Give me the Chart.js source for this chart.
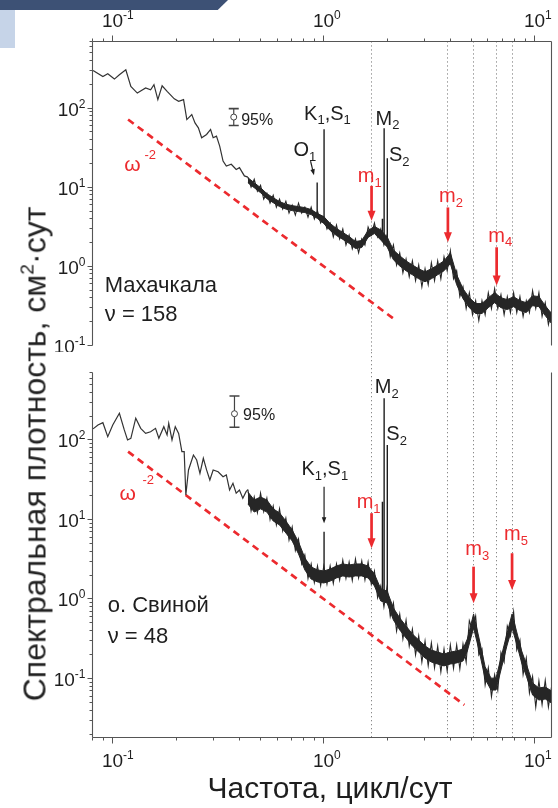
<!DOCTYPE html>
<html>
<head>
<meta charset="utf-8">
<script src="https://cdn.jsdelivr.net/npm/chart.js@4.4.1/dist/chart.umd.min.js"></script>
<style>
  html, body { margin: 0; padding: 0; background: #fff; }
  #wrap { position: relative; width: 558px; height: 808px; overflow: hidden; background: #fff; }
  #c1 { position: absolute; left: 0; top: 0; }
  #c2 { position: absolute; left: 0; top: 352px; }
  .band1 { position: absolute; left: 0; top: 0; width: 228px; height: 10px; background: #3d5175;
           clip-path: polygon(0 0, 100% 0, 95.5% 100%, 0 100%); z-index: 3; }
  .band2 { position: absolute; left: 0; top: 10px; width: 15px; height: 38px; background: #c6d4e8; z-index: 3; }
  #yt { position: absolute; left: 35px; top: 454px; transform: translate(-50%, -50%) rotate(-90deg);
        font: 32px "Liberation Sans", Arial, sans-serif; color: #222; white-space: nowrap; z-index: 2; }
  #yt sup { font-size: 60%; vertical-align: 0.6em; line-height: 0; }
</style>
</head>
<body>
<div id="wrap">
  <canvas id="c1" width="558" height="352"></canvas>
  <canvas id="c2" width="558" height="456"></canvas>
  <div class="band1"></div>
  <div class="band2"></div>
  <div id="yt">Спектральная плотность, см<sup>2</sup>·сут</div>
</div>
<script>
// ---------- frequency axis (cycles per day) ----------
const X_MIN = 0.08, X_MAX = 12;
const markerFreqs = [1.684, 3.876, 5.13, 6.60, 7.81];   // m1, m2, m3, m4, m5

// sampling frequencies of the high-frequency (noisy) part of both spectra
const noiseF = [0.4365, 0.4519, 0.4677, 0.4842, 0.5012, 0.5188, 0.5370, 0.5559, 0.5754, 0.5957,
  0.6166, 0.6383, 0.6607, 0.6839, 0.7079, 0.7328, 0.7586, 0.7852, 0.8128, 0.8414,
  0.8710, 0.9016, 0.9333, 0.9661, 1.0000, 1.0351, 1.0715, 1.1092, 1.1482, 1.1885,
  1.2303, 1.2735, 1.3183, 1.3646, 1.4125, 1.4622, 1.5136, 1.5668, 1.6218, 1.6788,
  1.7378, 1.7989, 1.8621, 1.9275, 1.9953, 2.0654, 2.1380, 2.2131, 2.2909, 2.3714,
  2.4547, 2.5410, 2.6303, 2.7227, 2.8184, 2.9174, 3.0200, 3.1261, 3.2359, 3.3497,
  3.4674, 3.5892, 3.7154, 3.8459, 3.9811, 4.1210, 4.2658, 4.4157, 4.5709, 4.7315,
  4.8978, 5.0699, 5.2481, 5.4325, 5.6234, 5.8210, 6.0256, 6.2373, 6.4565, 6.6834,
  6.9183, 7.1614, 7.4131, 7.6736, 7.9433, 8.2224, 8.5114, 8.8105, 9.1201, 9.4406,
  9.7724, 10.116, 10.471, 10.839, 11.220, 11.614, 12.023];

// ---------- Makhachkala (upper panel) ----------
const lowTopF = [0.0805, 0.0896, 0.0945, 0.1016, 0.1073, 0.1151, 0.1216, 0.1305, 0.1429, 0.1509, 0.1565, 0.1633,
  0.1711, 0.1807, 0.1954, 0.2049, 0.2162, 0.2241, 0.2365, 0.2450, 0.2542, 0.2634, 0.2780, 0.2904, 0.2987, 0.3097,
  0.3208, 0.3328, 0.3449, 0.3640, 0.3841, 0.3981, 0.4201, 0.4365];
const lowTopP = [300, 251, 272, 233, 264, 305, 188, 155, 180, 171, 198, 128,
  192, 163, 131, 122, 128, 71.6, 82.8, 65.1, 56.4, 42.2, 46.5, 53.7, 42.2, 44.2,
  33.1, 21.4, 18.5, 19.5, 16.8, 17.7, 13.9, 13.4];

const noiseTopP = [13.4, 10.0, 12.6, 8.91, 10.6, 7.07, 8.41, 6.29, 7.93, 5.60,
  7.07, 5.29, 6.67, 4.71, 5.94, 4.44, 6.29, 4.71, 5.60, 4.19,
  5.60, 3.96, 4.99, 3.53, 4.19, 2.96, 3.53, 2.35, 3.33, 2.22,
  2.96, 1.86, 2.49, 1.66, 2.22, 1.48, 2.22, 1.86, 3.14, 2.49,
  3.53, 2.35, 2.96, 1.86, 2.49, 1.32, 1.86, 1.04, 1.48, 0.828,
  1.24, 0.738, 1.17, 0.657, 1.04, 0.552, 0.930, 0.585, 1.11, 0.657,
  1.17, 0.696, 1.32, 0.878, 1.57, 0.696, 0.878, 0.413, 0.552, 0.292,
  0.464, 0.245, 0.368, 0.206, 0.368, 0.245, 0.464, 0.292, 0.521, 0.292,
  0.438, 0.245, 0.413, 0.260, 0.464, 0.260, 0.413, 0.232, 0.368, 0.260,
  0.492, 0.292, 0.464, 0.232, 0.347, 0.184, 0.276];

const bandTopF = [0.4365, 0.4677, 0.5012, 0.5370, 0.5754, 0.6166, 0.6607, 0.7079, 0.7586, 0.8128, 0.8710, 0.9333,
  1.0, 1.0715, 1.1482, 1.2303, 1.3183, 1.4125, 1.5136, 1.6218, 1.7378, 1.8621, 1.9953, 2.138, 2.291, 2.455,
  2.630, 2.818, 3.020, 3.236, 3.467, 3.715, 3.981, 4.266, 4.571, 4.898, 5.248, 5.623, 6.026, 6.457, 6.918,
  7.413, 7.943, 8.511, 9.120, 9.772, 10.47, 11.22, 12.02];
const bandTopHi = [13.2, 11.4, 9.86, 8.29, 7.38, 6.58, 6.11, 5.85, 5.69, 5.52, 5.22, 4.64,
  4.25, 3.48, 3.01, 2.68, 2.38, 2.06, 2.12, 2.84, 3.19, 2.88, 2.35, 1.61, 1.36, 1.17,
  1.04, 0.930, 0.853, 0.930, 1.04, 1.17, 1.48, 0.782, 0.521, 0.401, 0.338, 0.338, 0.401, 0.464, 0.401,
  0.379, 0.413, 0.368, 0.347, 0.425, 0.413, 0.318, 0.253];
const bandTopLo = [11.4, 9.86, 8.53, 7.17, 6.38, 5.69, 5.29, 5.06, 4.92, 4.78, 4.51, 4.02,
  3.47, 2.84, 2.45, 2.19, 1.95, 1.68, 1.73, 2.32, 2.60, 2.15, 1.76, 1.21, 1.01, 0.878,
  0.782, 0.696, 0.638, 0.696, 0.782, 0.878, 1.08, 0.585, 0.390, 0.300, 0.253, 0.253, 0.300, 0.347, 0.300,
  0.284, 0.309, 0.276, 0.260, 0.318, 0.309, 0.238, 0.189];

// tidal lines O1, K1, N2, M2, S2
const tideTopF = [0.93, 1.0027, 1.896, 1.932, 2.0];
const tideTopBase = [4.3, 3.9, 2.3, 2.3, 2.2];
const tideTopPeak = [11.5, 54, 4.0, 55.6, 23.3];

const slopeTopF = [0.118, 2.13];
const slopeTopP = [71.8, 0.22];
const ciTopF = 0.374;
const ciTopP = [60.3, 77.1, 98.6];

// ---------- Svinoy Island (lower panel) ----------
const lowBotF = [0.0805, 0.0849, 0.0896, 0.0945, 0.0998, 0.1073, 0.1132, 0.1173, 0.1216, 0.1283,
  0.1354, 0.1429, 0.1509, 0.1592, 0.1651, 0.1743, 0.1806, 0.1839, 0.1906, 0.1975,
  0.2049, 0.2123, 0.2177, 0.2217, 0.2282, 0.2408, 0.2495, 0.2586, 0.2683, 0.2780,
  0.2881, 0.2987, 0.3153, 0.3328, 0.3449, 0.3574, 0.3708, 0.3841, 0.3981, 0.4129,
  0.4279, 0.4365];
const lowBotP = [138, 154, 165, 110, 154, 217, 134, 100, 105, 188,
  140, 121, 127, 140, 105, 147, 116, 162, 100, 147,
  121, 71.3, 71.3, 20.3, 42, 64.7, 56, 38.1, 58.9, 42,
  31.4, 42, 39.9, 34.5, 36.3, 23.5, 28.5, 21.4, 23.5, 18.5,
  22.4, 23.8];

const noiseBotP = [23.8, 12.8, 19.2, 12.2, 21.5, 12.6, 18.6, 10.0, 14.8, 8.53,
  13.6, 7.17, 10.4, 5.52, 8.05, 4.07, 5.69, 2.76, 3.58, 1.81,
  2.76, 1.61, 2.60, 1.48, 2.60, 1.54, 2.60, 1.57, 2.76, 1.73,
  3.09, 1.81, 2.92, 1.71, 3.19, 1.84, 3.01, 1.73, 2.92, 1.54,
  2.25, 1.04, 1.46, 0.793, 1.42, 0.602, 0.891, 0.396, 0.648, 0.314,
  0.544, 0.256, 0.419, 0.198, 0.343, 0.161, 0.296, 0.144, 0.280, 0.136,
  0.256, 0.121, 0.235, 0.124, 0.264, 0.134, 0.264, 0.132, 0.272, 0.161,
  0.532, 0.408, 0.611, 0.198, 0.235, 0.083, 0.136, 0.0593, 0.112, 0.0716,
  0.213, 0.161, 0.457, 0.343, 0.686, 0.228, 0.305, 0.112, 0.181, 0.0656,
  0.106, 0.0438, 0.0932, 0.047, 0.0944, 0.0438, 0.0793];

const bandBotF = [0.4365, 0.4677, 0.5012, 0.5370, 0.5754, 0.6166, 0.6607, 0.7079, 0.7586, 0.8128, 0.8710, 0.9333,
  1.0, 1.0715, 1.1482, 1.2303, 1.3183, 1.4125, 1.5136, 1.6218, 1.7378, 1.8621, 1.9953, 2.138, 2.291, 2.455,
  2.630, 2.818, 3.020, 3.236, 3.467, 3.715, 3.981, 4.266, 4.571, 4.793, 5.131, 5.456, 5.821, 6.209, 6.553,
  6.917, 7.379, 7.810, 8.217, 8.675, 9.155, 9.772, 10.47, 11.22, 12.02];
const bandBotHi = [22.2, 17.6, 19.2, 17.6, 13.6, 12.1, 9.58, 7.38, 5.22, 3.28, 2.53, 2.32,
  2.25, 2.38, 2.60, 2.76, 2.68, 2.76, 2.76, 2.60, 2.06, 1.34, 1.26, 0.770, 0.577, 0.457,
  0.363, 0.305, 0.256, 0.228, 0.215, 0.203, 0.215, 0.222, 0.235, 0.314, 0.648, 0.314, 0.140, 0.101, 0.101,
  0.181, 0.363, 0.648, 0.385, 0.222, 0.148, 0.088, 0.0759, 0.0782, 0.0696];
const bandBotLo = [15.7, 12.4, 13.6, 12.4, 9.58, 8.53, 6.77, 5.37, 3.69, 2.32, 1.78, 1.64,
  1.59, 1.68, 1.84, 1.95, 1.89, 1.95, 1.95, 1.84, 1.46, 0.944, 0.891, 0.544, 0.408, 0.323,
  0.256, 0.215, 0.181, 0.161, 0.152, 0.144, 0.152, 0.157, 0.166, 0.222, 0.432, 0.222, 0.0985, 0.0716, 0.0716,
  0.128, 0.256, 0.432, 0.272, 0.157, 0.105, 0.0619, 0.0536, 0.0552, 0.0491];

// tidal lines K1, N2, M2, S2
const tideBotF = [1.0027, 1.896, 1.932, 2.0];
const tideBotBase = [2.0, 1.2, 1.2, 1.1];
const tideBotPeak = [7.0, 16.7, 335, 86.5];

const slopeBotF = [0.118, 4.64];
const slopeBotP = [71.3, 0.0465];
const ciBotF = 0.377;
const ciBotP = [144.5, 214, 358];

// ---------- styling ----------
const FONT = '"Liberation Sans", Arial, Helvetica, sans-serif';
const RED = '#ec2a2e';
const INK = '#1e1e1e';
const AXIS = '#555';
const DATA = '#262626';

function pts(fs, vs) { return fs.map((f, i) => ({ x: f, y: vs[i] })); }

function tideSegments(fs, base, peak) {
  const out = [];
  fs.forEach((f, i) => { out.push({ x: f, y: base[i] }, { x: f, y: peak[i] }, { x: f, y: null }); });
  return out;
}

function buildDatasets(p) {
  return [
    { data: pts(p.bandF, p.bandHi), borderColor: DATA, backgroundColor: DATA, borderWidth: 1, fill: '+1', pointRadius: 0 },
    { data: pts(p.bandF, p.bandLo), borderColor: DATA, borderWidth: 1, fill: false, pointRadius: 0 },
    { data: pts(noiseF, p.noiseP), borderColor: DATA, borderWidth: 1.1, fill: false, pointRadius: 0 },
    { data: pts(p.lowF, p.lowP), borderColor: '#333', borderWidth: 1.2, fill: false, pointRadius: 0 },
    { data: tideSegments(p.tideF, p.tideBase, p.tidePeak), borderColor: INK, borderWidth: 1.4, fill: false, pointRadius: 0, spanGaps: false },
    { data: pts(p.slopeF, p.slopeP), borderColor: RED, borderWidth: 2.7, borderDash: [7, 5], fill: false, pointRadius: 0 },
    { data: p.ciP.map(v => ({ x: p.ciF, y: v })), showLine: true, borderColor: '#444', borderWidth: 1.2, fill: false,
      pointStyle: ['line', 'circle', 'line'], pointRadius: [5, 3, 5], pointBorderWidth: [1.6, 1, 1.6],
      pointBackgroundColor: '#fff', pointBorderColor: '#444' }
  ];
}

// ---------- text with sub/superscripts ----------
function parseRich(s) {
  const out = []; let i = 0;
  const isMark = k => (s[k] === '_' || s[k] === '^') && s[k + 1] === '{';
  while (i < s.length) {
    if (isMark(i)) {
      const j = s.indexOf('}', i);
      out.push({ t: s.slice(i + 2, j), k: s[i] === '_' ? 'sub' : 'sup' });
      i = j + 1;
    } else {
      let j = i;
      while (j < s.length && !isMark(j)) j++;
      out.push({ t: s.slice(i, j), k: 'n' });
      i = j;
    }
  }
  return out;
}
function drawRich(ctx, s, x, y, size, color, align) {
  const segs = parseRich(s);
  let w = 0;
  segs.forEach(g => {
    g.sz = g.k === 'n' ? size : Math.round(size * 0.64);
    ctx.font = g.sz + 'px ' + FONT;
    g.w = ctx.measureText(g.t).width; w += g.w;
  });
  let cx = align === 'right' ? x - w : align === 'center' ? x - w / 2 : x;
  ctx.fillStyle = color; ctx.textAlign = 'left'; ctx.textBaseline = 'alphabetic';
  segs.forEach(g => {
    ctx.font = g.sz + 'px ' + FONT;
    const dy = g.k === 'sub' ? size * 0.24 : g.k === 'sup' ? -size * 0.42 : 0;
    ctx.fillText(g.t, cx, y + dy);
    cx += g.w;
  });
  return w;
}
function arrow(ctx, x0, y0, x1, y1, color, lw, hl, hw) {
  const ang = Math.atan2(y1 - y0, x1 - x0);
  const bx = x1 - Math.cos(ang) * hl, by = y1 - Math.sin(ang) * hl;
  ctx.strokeStyle = color; ctx.fillStyle = color; ctx.lineWidth = lw; ctx.setLineDash([]);
  ctx.beginPath(); ctx.moveTo(x0, y0); ctx.lineTo(bx + Math.cos(ang), by + Math.sin(ang)); ctx.stroke();
  const nx = -Math.sin(ang) * hw / 2, ny = Math.cos(ang) * hw / 2;
  ctx.beginPath(); ctx.moveTo(bx + nx, by + ny); ctx.lineTo(bx - nx, by - ny); ctx.lineTo(x1, y1); ctx.closePath(); ctx.fill();
}
const crisp = v => Math.round(v - 0.5) + 0.5;

function logTicks(min, max) {
  const out = [];
  for (let e = -3; e <= 3; e++) {
    for (let m = 1; m <= 9; m++) {
      const v = m * Math.pow(10, e);
      if (v >= min * 0.999 && v <= max * 1.001) out.push({ v, major: m === 1, e });
    }
  }
  return out;
}

// ---------- frame, ticks, labels and annotations of one panel ----------
function panelDecor(cfg) {
  return {
    id: 'panelDecor',
    beforeDatasetsDraw(chart) {
      const { ctx, chartArea: a } = chart; const xs = chart.scales.x;
      const y0 = cfg.xSide === 'top' ? a.top : 0;
      const y1 = cfg.xSide === 'top' ? chart.height : a.bottom;
      ctx.save();
      ctx.strokeStyle = '#8a8a8a'; ctx.lineWidth = 1; ctx.setLineDash([1.3, 2.7]);
      markerFreqs.forEach(f => {
        const px = crisp(xs.getPixelForValue(f));
        ctx.beginPath(); ctx.moveTo(px, y0); ctx.lineTo(px, y1); ctx.stroke();
      });
      ctx.restore();
    },
    afterDatasetsDraw(chart) {
      const { ctx, chartArea: a } = chart; const xs = chart.scales.x, ys = chart.scales.y;
      const L = crisp(a.left), R = crisp(a.right), T = crisp(a.top), B = crisp(a.bottom);
      const xAxisY = cfg.xSide === 'top' ? T : B;
      const dir = cfg.xSide === 'top' ? -1 : 1;
      ctx.save();
      ctx.strokeStyle = AXIS; ctx.lineWidth = 1.1; ctx.setLineDash([]);
      ctx.beginPath();
      ctx.moveTo(L, T); ctx.lineTo(L, B);
      ctx.moveTo(R, T); ctx.lineTo(R, B);
      ctx.moveTo(L, xAxisY); ctx.lineTo(R, xAxisY);
      ctx.stroke();

      // frequency ticks
      ctx.lineWidth = 1;
      logTicks(X_MIN, X_MAX).forEach(t => {
        const px = crisp(xs.getPixelForValue(t.v));
        const len = t.major ? 6 : 3;
        ctx.beginPath(); ctx.moveTo(px, xAxisY); ctx.lineTo(px, xAxisY + dir * len); ctx.stroke();
        if (t.major) {
          ctx.font = '19px ' + FONT;
          const w10 = ctx.measureText('10').width;
          const by = cfg.xSide === 'top' ? xAxisY - 15 : xAxisY + 29;
          drawRich(ctx, '10^{' + (t.e < 0 ? '-' + (-t.e) : t.e) + '}', px - w10 / 2, by, 19, INK, 'left');
        }
      });
      // spectral density ticks
      logTicks(ys.min, ys.max).forEach(t => {
        const py = crisp(ys.getPixelForValue(t.v));
        const len = t.major ? 5 : 3;
        ctx.beginPath(); ctx.moveTo(L, py); ctx.lineTo(L - len, py); ctx.stroke();
        if (t.major) {
          drawRich(ctx, '10^{' + (t.e < 0 ? '-' + (-t.e) : t.e) + '}', L - 7, py + 7, 19, INK, 'right');
        }
      });

      const P = (f, v) => [xs.getPixelForValue(f), ys.getPixelForValue(v)];
      cfg.notes.forEach(n => {
        const [px, py] = P(n.f, n.v);
        drawRich(ctx, n.t, px, py, n.size, n.color, 'left');
      });
      cfg.arrows.forEach(r => {
        const [x0, y0] = P(r.f0, r.v0);
        const [x1, y1] = P(r.f1, r.v1);
        if (r.red) arrow(ctx, x0, y0, x1, y1, RED, 2.7, 10, 8);
        else arrow(ctx, x0, y0, x1, y1, INK, 1.2, 6, 4.5);
      });
      if (cfg.xTitle) {
        ctx.font = '30px ' + FONT; ctx.fillStyle = INK; ctx.textAlign = 'center'; ctx.textBaseline = 'alphabetic';
        ctx.fillText(cfg.xTitle, 330, chart.height - 10);
      }
      ctx.restore();
    }
  };
}

function makeChart(el, p, layout, cfg) {
  return new Chart(el, {
    type: 'line',
    data: { datasets: buildDatasets(p) },
    options: {
      responsive: false, animation: false, events: [], devicePixelRatio: 1,
      layout: { padding: layout.padding },
      elements: { line: { tension: 0 } },
      plugins: { legend: { display: false }, tooltip: { enabled: false } },
      scales: {
        x: { type: 'logarithmic', position: cfg.xSide, min: X_MIN, max: X_MAX,
             ticks: { display: false }, grid: { display: false, drawTicks: false }, border: { display: false },
             afterFit: s => { s.height = layout.xHeight; } },
        y: { type: 'logarithmic', min: p.yMin, max: p.yMax,
             ticks: { display: false }, grid: { display: false, drawTicks: false }, border: { display: false },
             afterFit: s => { s.width = layout.yWidth; } }
      }
    },
    plugins: [panelDecor(cfg)]
  });
}

const topNotes = [
  { f: 0.806, v: 71.7, t: 'K_{1},S_{1}', size: 20, color: INK },
  { f: 1.758, v: 62.0, t: 'M_{2}', size: 20, color: INK },
  { f: 2.037, v: 21.4, t: 'S_{2}', size: 20, color: INK },
  { f: 0.718, v: 24.8, t: 'O_{1}', size: 20, color: INK },
  { f: 1.448, v: 11.5, t: 'm_{1}', size: 20, color: RED },
  { f: 3.516, v: 6.42, t: 'm_{2}', size: 20, color: RED },
  { f: 6.03, v: 2.05, t: 'm_{4}', size: 20, color: RED },
  { f: 0.4055, v: 62.0, t: '95%', size: 16, color: INK },
  { f: 0.1132, v: 15.9, t: 'ω', size: 21, color: RED },
  { f: 0.141, v: 22.5, t: '-2', size: 13, color: RED },
  { f: 0.0915, v: 0.471, t: 'Махачкала', size: 22, color: INK },
  { f: 0.0915, v: 0.202, t: 'ν = 158', size: 22, color: INK }
];
const topArrows = [
  { f0: 0.8653, v0: 21.4, f1: 0.898, v1: 14.2, red: false },
  { f0: 1.684, v0: 10.4, f1: 1.684, v1: 3.77, red: true },
  { f0: 3.876, v0: 5.55, f1: 3.876, v1: 2.01, red: true },
  { f0: 6.60, v0: 1.74, f1: 6.60, v1: 0.574, red: true }
];
const botNotes = [
  { f: 1.745, v: 387, t: 'M_{2}', size: 20, color: INK },
  { f: 1.979, v: 100, t: 'S_{2}', size: 20, color: INK },
  { f: 0.783, v: 36.3, t: 'K_{1},S_{1}', size: 20, color: INK },
  { f: 1.432, v: 13.8, t: 'm_{1}', size: 20, color: RED },
  { f: 4.69, v: 3.58, t: 'm_{3}', size: 20, color: RED },
  { f: 7.16, v: 5.52, t: 'm_{5}', size: 20, color: RED },
  { f: 0.4143, v: 178.5, t: '95%', size: 16, color: INK },
  { f: 0.1073, v: 17.6, t: 'ω', size: 21, color: RED },
  { f: 0.138, v: 28.0, t: '-2', size: 13, color: RED },
  { f: 0.0945, v: 0.692, t: 'о. Свиной', size: 22, color: INK },
  { f: 0.0945, v: 0.277, t: 'ν = 48', size: 22, color: INK }
];
const botArrows = [
  { f0: 1.0027, v0: 25.9, f1: 1.0027, v1: 8.96, red: false },
  { f0: 1.684, v0: 12.0, f1: 1.684, v1: 4.34, red: true },
  { f0: 5.13, v0: 2.55, f1: 5.13, v1: 0.883, red: true },
  { f0: 7.81, v0: 3.76, f1: 7.81, v1: 1.30, red: true }
];

makeChart(document.getElementById('c1'), {
  lowF: lowTopF, lowP: lowTopP, noiseP: noiseTopP, bandF: bandTopF, bandHi: bandTopHi, bandLo: bandTopLo,
  tideF: tideTopF, tideBase: tideTopBase, tidePeak: tideTopPeak,
  slopeF: slopeTopF, slopeP: slopeTopP, ciF: ciTopF, ciP: ciTopP, yMin: 0.1, yMax: 700
}, { padding: { left: 0, right: 0.9, top: 0, bottom: 5 }, xHeight: 41.3, yWidth: 92.5 },
   { xSide: 'top', notes: topNotes, arrows: topArrows });

makeChart(document.getElementById('c2'), {
  lowF: lowBotF, lowP: lowBotP, noiseP: noiseBotP, bandF: bandBotF, bandHi: bandBotHi, bandLo: bandBotLo,
  tideF: tideBotF, tideBase: tideBotBase, tidePeak: tideBotPeak,
  slopeF: slopeBotF, slopeP: slopeBotP, ciF: ciBotF, ciP: ciBotP, yMin: 0.018, yMax: 700
}, { padding: { left: 0, right: 0.9, top: 20.8, bottom: 0 }, xHeight: 70.3, yWidth: 92.5 },
   { xSide: 'bottom', notes: botNotes, arrows: botArrows, xTitle: 'Частота, цикл/сут' });
</script>
</body>
</html>
